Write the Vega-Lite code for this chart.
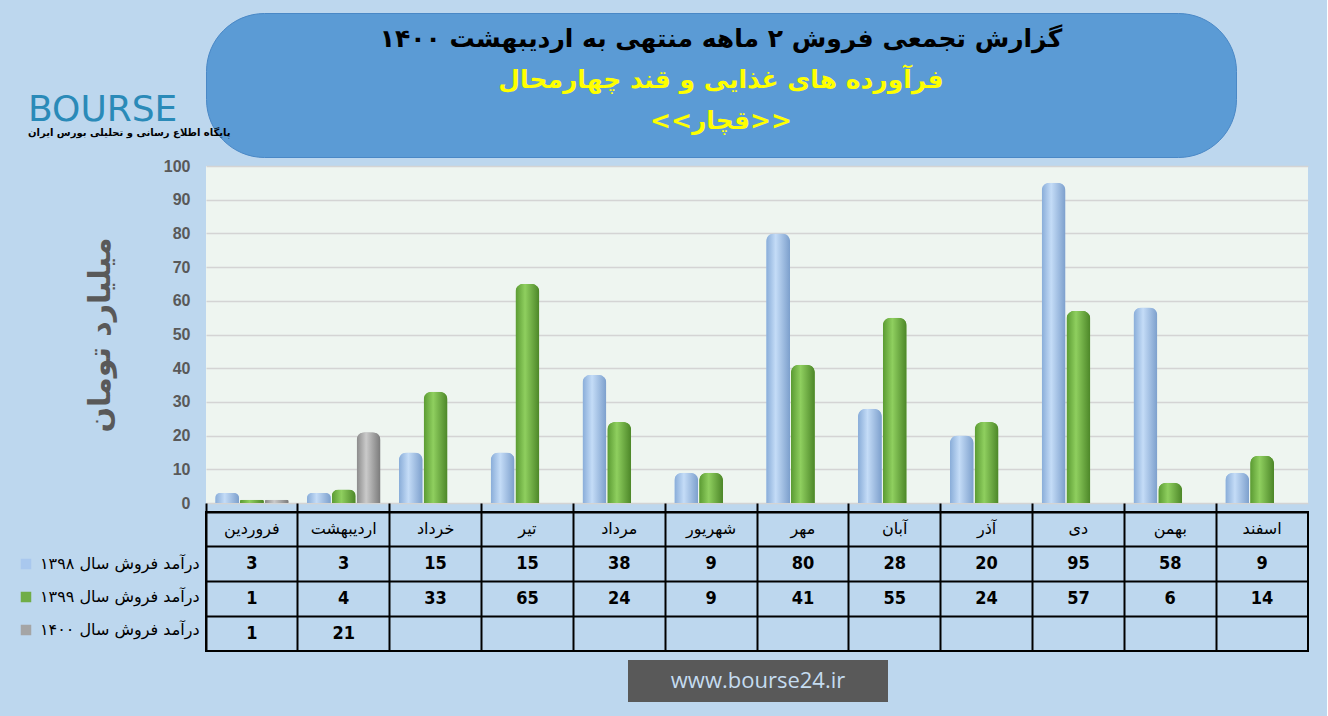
{
  "$schema": "https://vega.github.io/schema/vega-lite/v6.json",
  "background": "#bdd7ee",
  "padding": {"left": 18, "right": 18, "top": 12, "bottom": 15},
  "config": {"view": {"stroke": null}, "font": "DejaVu Sans"},
  "bounds": "flush",
  "spacing": 9,
  "resolve": {"scale": {"color": "independent"}, "legend": {"color": "independent"}},
  "datasets": {
    "titles": [
      {"line": 1, "text": "گزارش تجمعی فروش ۲ ماهه منتهی به اردیبهشت ۱۴۰۰"},
      {"line": 2, "text": "فرآورده های غذایی و قند چهارمحال"},
      {"line": 3, "text": "<<قچار>>"}
    ],
    "sales": [
      {"month": "فروردین", "series": "درآمد فروش سال ۱۳۹۸", "value": 3},
      {"month": "اردیبهشت", "series": "درآمد فروش سال ۱۳۹۸", "value": 3},
      {"month": "خرداد", "series": "درآمد فروش سال ۱۳۹۸", "value": 15},
      {"month": "تیر", "series": "درآمد فروش سال ۱۳۹۸", "value": 15},
      {"month": "مرداد", "series": "درآمد فروش سال ۱۳۹۸", "value": 38},
      {"month": "شهریور", "series": "درآمد فروش سال ۱۳۹۸", "value": 9},
      {"month": "مهر", "series": "درآمد فروش سال ۱۳۹۸", "value": 80},
      {"month": "آبان", "series": "درآمد فروش سال ۱۳۹۸", "value": 28},
      {"month": "آذر", "series": "درآمد فروش سال ۱۳۹۸", "value": 20},
      {"month": "دی", "series": "درآمد فروش سال ۱۳۹۸", "value": 95},
      {"month": "بهمن", "series": "درآمد فروش سال ۱۳۹۸", "value": 58},
      {"month": "اسفند", "series": "درآمد فروش سال ۱۳۹۸", "value": 9},
      {"month": "فروردین", "series": "درآمد فروش سال ۱۳۹۹", "value": 1},
      {"month": "اردیبهشت", "series": "درآمد فروش سال ۱۳۹۹", "value": 4},
      {"month": "خرداد", "series": "درآمد فروش سال ۱۳۹۹", "value": 33},
      {"month": "تیر", "series": "درآمد فروش سال ۱۳۹۹", "value": 65},
      {"month": "مرداد", "series": "درآمد فروش سال ۱۳۹۹", "value": 24},
      {"month": "شهریور", "series": "درآمد فروش سال ۱۳۹۹", "value": 9},
      {"month": "مهر", "series": "درآمد فروش سال ۱۳۹۹", "value": 41},
      {"month": "آبان", "series": "درآمد فروش سال ۱۳۹۹", "value": 55},
      {"month": "آذر", "series": "درآمد فروش سال ۱۳۹۹", "value": 24},
      {"month": "دی", "series": "درآمد فروش سال ۱۳۹۹", "value": 57},
      {"month": "بهمن", "series": "درآمد فروش سال ۱۳۹۹", "value": 6},
      {"month": "اسفند", "series": "درآمد فروش سال ۱۳۹۹", "value": 14},
      {"month": "فروردین", "series": "درآمد فروش سال ۱۴۰۰", "value": 1},
      {"month": "اردیبهشت", "series": "درآمد فروش سال ۱۴۰۰", "value": 21}
    ]
  },
  "vconcat": [
    {
      "width": 1030,
      "height": 144,
      "view": {"fill": "#5b9bd5", "cornerRadius": 58, "stroke": "#4a88c6", "strokeWidth": 1},
      "title": {"text": "BOURSE", "subtitle": "پایگاه اطلاع رسانی و تحلیلی بورس ایران", "anchor": "start", "orient": "top", "dx": -178, "dy": 130, "fontSize": 36, "fontWeight": "normal", "color": "#2a8ab8", "font": "DejaVu Sans", "subtitleFontSize": 10, "subtitleFontWeight": "bold", "subtitleColor": "#000000", "subtitleFont": "DejaVu Sans", "subtitlePadding": -1},
      "data": {"name": "titles"},
      "mark": {"type": "text", "fontSize": 25, "fontWeight": "bold", "font": "DejaVu Sans"},
      "encoding": {
        "y": {"field": "line", "type": "ordinal", "axis": null, "scale": {"padding": 0.756, "align": 0.42}},
        "text": {"field": "text"},
        "color": {"field": "line", "type": "ordinal", "scale": {"domain": [1, 2, 3], "range": ["#000000", "#ffff00", "#ffff00"]}, "legend": null}
      }
    },
    {
      "width": 1102,
      "height": 337,
      "view": {"fill": "#eef5f0"},
      "data": {"name": "sales"},
      "encoding": {
        "x": {"field": "month", "type": "nominal", "sort": ["فروردین","اردیبهشت","خرداد","تیر","مرداد","شهریور","مهر","آبان","آذر","دی","بهمن","اسفند"], "axis": null, "scale": {"paddingInner": 0.2, "paddingOuter": 0.1}},
        "xOffset": {"field": "series", "type": "nominal", "scale": {"domain": ["درآمد فروش سال ۱۳۹۸", "درآمد فروش سال ۱۳۹۹", "درآمد فروش سال ۱۴۰۰"], "paddingInner": 0.04}},
        "y": {"field": "value", "type": "quantitative", "scale": {"domain": [0, 100]}, "axis": {"values": [0,10,20,30,40,50,60,70,80,90,100], "title": "میلیارد تومان", "titleFontSize": 30, "titleFontWeight": "bold", "titleColor": "#595959", "titlePadding": 48, "labelFontSize": 16, "labelFontWeight": "bold", "labelColor": "#595959", "labelFont": "Liberation Sans", "labelPadding": 16, "domain": false, "ticks": false, "grid": true, "gridColor": "#d4d4d4", "gridWidth": 1.5}}
      },
      "layer": [
        {
          "mark": {"type": "bar", "cornerRadiusEnd": 8},
          "encoding": {
            "color": {
              "field": "series", "type": "nominal",
              "scale": {"domain": ["درآمد فروش سال ۱۳۹۸", "درآمد فروش سال ۱۳۹۹", "درآمد فروش سال ۱۴۰۰"], "range": ["#a9c8ee", "#70ad47", "#a5a5a5"]},
              "legend": {"orient": "none", "legendX": -188, "legendY": 390, "title": null, "symbolType": "square", "symbolSize": 110, "labelFontSize": 16, "labelColor": "#000000", "labelFont": "DejaVu Sans", "rowPadding": 17, "labelLimit": 0, "labelOffset": 6}
            }
          }
        },
        {
          "transform": [{"filter": "datum.series === 'درآمد فروش سال ۱۳۹۸'"}],
          "mark": {"type": "bar", "cornerRadiusEnd": 8, "fill": {"gradient": "linear", "x1": 0, "x2": 1, "y1": 0, "y2": 0, "stops": [{"offset": 0, "color": "#88acd8"}, {"offset": 0.4, "color": "#c4dcf7"}, {"offset": 1, "color": "#7c9fcc"}]}}
        },
        {
          "transform": [{"filter": "datum.series === 'درآمد فروش سال ۱۳۹۹'"}],
          "mark": {"type": "bar", "cornerRadiusEnd": 8, "fill": {"gradient": "linear", "x1": 0, "x2": 1, "y1": 0, "y2": 0, "stops": [{"offset": 0, "color": "#5a9a32"}, {"offset": 0.4, "color": "#8fcf5f"}, {"offset": 1, "color": "#4c8628"}]}}
        },
        {
          "transform": [{"filter": "datum.series === 'درآمد فروش سال ۱۴۰۰'"}],
          "mark": {"type": "bar", "cornerRadiusEnd": 8, "fill": {"gradient": "linear", "x1": 0, "x2": 1, "y1": 0, "y2": 0, "stops": [{"offset": 0, "color": "#8a8a8a"}, {"offset": 0.4, "color": "#cacaca"}, {"offset": 1, "color": "#7a7a7a"}]}}
        }
      ]
    },
    {
      "width": 1102,
      "height": 139,
      "data": {"name": "sales"},
      "view": {"stroke": "#000000", "strokeWidth": 2},
      "encoding": {
        "x": {"field": "month", "type": "nominal", "sort": ["فروردین","اردیبهشت","خرداد","تیر","مرداد","شهریور","مهر","آبان","آذر","دی","بهمن","اسفند"], "scale": {"type": "band", "paddingInner": 0, "paddingOuter": 0}, "axis": {"orient": "top", "grid": true, "bandPosition": 0, "labels": false, "ticks": true, "tickSize": 9, "tickColor": "#000000", "tickWidth": 2, "domain": false, "title": null, "gridColor": "#000000", "gridWidth": 2}}
      },
      "layer": [
        {
          "transform": [{"filter": "datum.series === 'درآمد فروش سال ۱۳۹۸'"}],
          "mark": {"type": "text", "fontSize": 16, "font": "DejaVu Sans", "color": "#000000"},
          "encoding": {
            "y": {"datum": "header", "type": "ordinal", "scale": {"type": "band", "domain": ["header", "درآمد فروش سال ۱۳۹۸", "درآمد فروش سال ۱۳۹۹", "درآمد فروش سال ۱۴۰۰"], "paddingInner": 0, "paddingOuter": 0}, "axis": {"grid": true, "bandPosition": 0, "labels": false, "ticks": false, "domain": false, "title": null, "gridColor": "#000000", "gridWidth": 2}},
            "text": {"field": "month"}
          }
        },
        {
          "mark": {"type": "text", "fontSize": 18, "fontWeight": "bold", "font": "DejaVu Sans Condensed", "color": "#000000"},
          "encoding": {
            "y": {"field": "series", "type": "ordinal", "scale": {"type": "band", "domain": ["header", "درآمد فروش سال ۱۳۹۸", "درآمد فروش سال ۱۳۹۹", "درآمد فروش سال ۱۴۰۰"], "paddingInner": 0, "paddingOuter": 0}, "axis": {"grid": true, "bandPosition": 0, "labels": false, "ticks": false, "domain": false, "title": null, "gridColor": "#000000", "gridWidth": 2}},
            "text": {"field": "value"}
          }
        }
      ]
    },
    {
      "hconcat": [
        {"width": 400, "height": 42, "data": {"values": [{"site": ""}]}, "mark": {"type": "text"}, "encoding": {"text": {"field": "site"}}},
        {"width": 260, "height": 42, "view": {"fill": "#595959"}, "data": {"values": [{"site": "www.bourse24.ir"}]}, "mark": {"type": "text", "fontSize": 22, "color": "#c5dcf0", "font": "Open Sans"}, "encoding": {"text": {"field": "site"}}}
      ],
      "spacing": 22,
      "bounds": "flush"
    }
  ]
}
